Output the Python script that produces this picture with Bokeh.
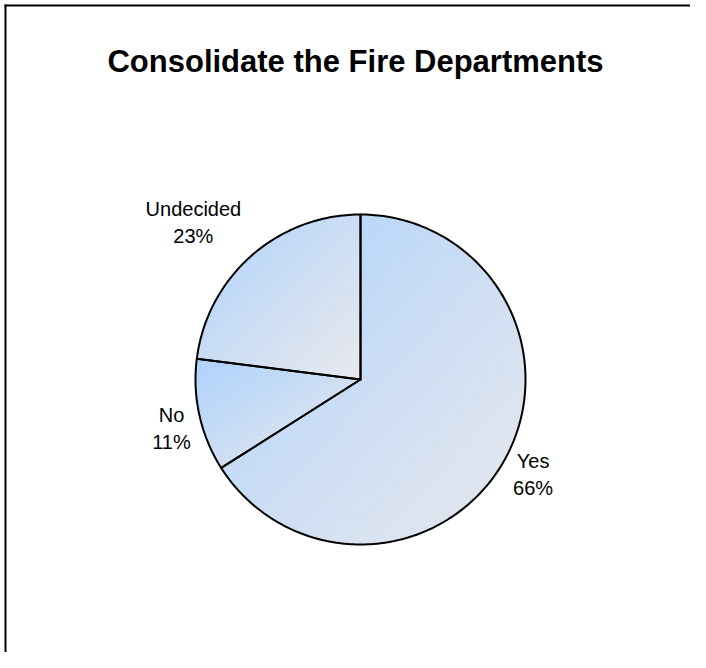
import numpy as np
from bokeh.plotting import figure
from bokeh.models import Range1d
from bokeh.core.properties import value
from bokeh.embed import file_html
from bokeh.resources import INLINE

# ---- data ----
title_text = "Consolidate the Fire Departments"
categories = ["Yes", "No", "Undecided"]
percents = [66, 11, 23]
pct_labels = ["66%", "11%", "23%"]

# ---- layout / style ----
W, H = 690, 652
CX, CY, R = 360, 379, 165
label_offsets = [(28, 2), (-28, 0), (-58, -47)]
LINE_GAP = 27
BLUE = np.array([162, 204, 252], dtype=float)
GRAY = np.array([230, 230, 234], dtype=float)
NSTRIP = 48
FONT = "Liberation Sans"
FRAME = 5


def to_hex(c):
    c = np.clip(np.round(c), 0, 255).astype(int)
    return "#%02x%02x%02x" % tuple(c)


def clip_half(poly, a, b, c):
    """keep a*x + b*y >= c"""
    out = []
    n = len(poly)
    for i in range(n):
        P = poly[i]
        Q = poly[(i + 1) % n]
        fp = a * P[0] + b * P[1] - c
        fq = a * Q[0] + b * Q[1] - c
        if fp >= 0:
            out.append(P)
        if (fp >= 0) != (fq >= 0):
            t = fp / (fp - fq)
            out.append((P[0] + t * (Q[0] - P[0]), P[1] + t * (Q[1] - P[1])))
    return out


def slice_poly(t0, t1):
    n = max(int(abs(t1 - t0)) + 1, 3)
    th = np.radians(np.linspace(t0, t1, n))
    pts = [(CX, CY)]
    pts += [(CX + R * np.sin(a), CY - R * np.cos(a)) for a in th]
    return pts


p = figure(width=W, height=H, x_range=Range1d(0, W), y_range=Range1d(H, 0),
           output_backend="svg", toolbar_location=None, min_border=0)
p.axis.visible = False
p.grid.visible = False
p.outline_line_color = None
p.background_fill_color = "white"
p.border_fill_color = "white"

total = float(sum(percents))
angles = np.concatenate([[0], np.cumsum(percents) / total * 360.0])

strip_xs, strip_ys, strip_cols = [], [], []
out_xs, out_ys = [], []
for i in range(len(categories)):
    poly = slice_poly(angles[i], angles[i + 1])
    xs = [q[0] for q in poly]
    ys = [q[1] for q in poly]
    out_xs.append(xs)
    out_ys.append(ys)
    xmin, xmax, ymin, ymax = min(xs), max(xs), min(ys), max(ys)
    w = max(xmax - xmin, 1e-6)
    h = max(ymax - ymin, 1e-6)
    a, b = 1.0 / w, 1.0 / h
    base = xmin / w + ymin / h
    for k in range(NSTRIP):
        lo = 2.0 * k / NSTRIP
        hi = 2.0 * (k + 1) / NSTRIP
        part = clip_half(poly, a, b, base + lo)
        if len(part) < 3:
            continue
        part = clip_half(part, -a, -b, -(base + hi))
        if len(part) < 3:
            continue
        t = (k + 0.5) / NSTRIP
        strip_xs.append([q[0] for q in part])
        strip_ys.append([q[1] for q in part])
        strip_cols.append(to_hex(BLUE + (GRAY - BLUE) * t))

p.patches(strip_xs, strip_ys, fill_color=strip_cols, line_color=strip_cols, line_width=0.8)
p.patches(out_xs, out_ys, fill_alpha=0, hatch_pattern="/", hatch_color="white",
          hatch_alpha=0.3, hatch_scale=5, hatch_weight=1,
          line_color="black", line_width=2, line_join="round")

# labels
for i, cat in enumerate(categories):
    mid = np.radians((angles[i] + angles[i + 1]) / 2.0)
    ax = CX + R * np.sin(mid) + label_offsets[i][0]
    ay = CY - R * np.cos(mid) + label_offsets[i][1]
    p.text(x=[ax, ax], y=[ay, ay + LINE_GAP], text=[cat, pct_labels[i]],
           text_align="center", text_baseline="alphabetic",
           text_font=value(FONT), text_font_size="20px", text_color="black")

# title
p.text(x=[355], y=[61], text=[title_text], text_align="center",
       text_baseline="alphabetic", text_font=value(FONT), text_font_size="31px",
       text_font_style="bold", text_color="black")

# frame (left and top edges visible)
p.segment(x0=[FRAME - 1, FRAME], y0=[FRAME, FRAME - 1], x1=[W, FRAME], y1=[FRAME, H],
          line_color="black", line_width=2)

open("out.html", "w").write(file_html(p, INLINE))
